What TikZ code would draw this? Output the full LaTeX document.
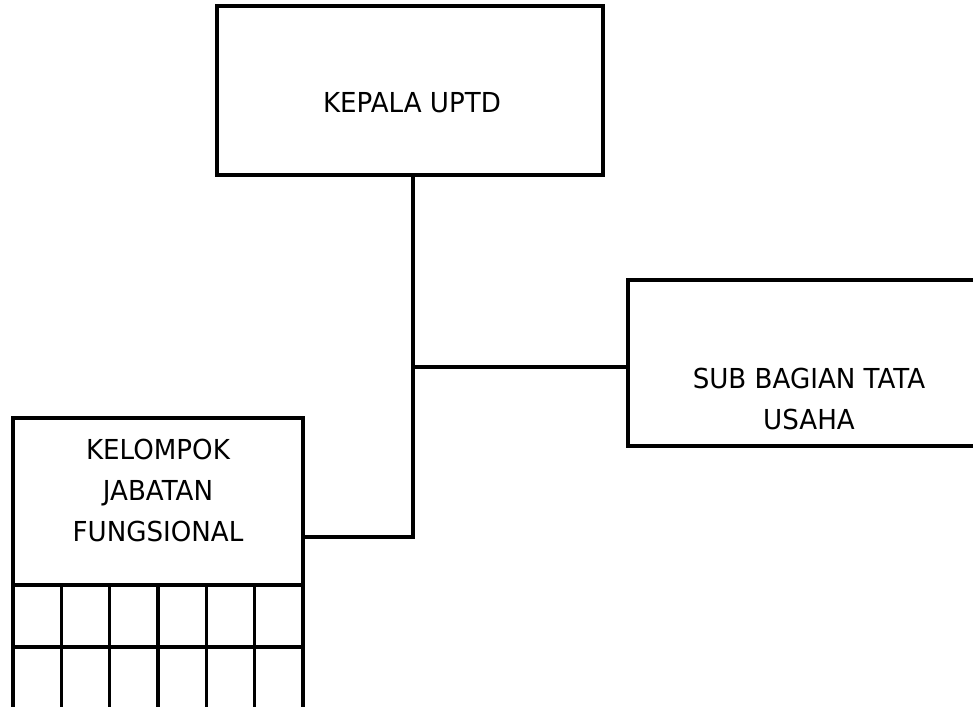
\documentclass[tikz,border=0pt]{standalone}
\usepackage{fontspec}
\setmainfont{DejaVu Sans}[FakeStretch=0.95]
\usetikzlibrary{positioning}

\tikzset{
  unitbox/.style={draw, line width=3.5pt, inner sep=0pt, outer sep=0pt},
  boxtext/.style={align=center, font=\fontsize{27.5}{41}\selectfont},
  link/.style={line width=3.5pt}
}

\begin{document}
\begin{tikzpicture}[x=1pt,y=-1pt]
\useasboundingbox (0,0) rectangle (973,706);
\clip (0,0) rectangle (973,706);

\node[unitbox, minimum width=386pt, minimum height=169pt] (kepala) at (410,90.5) {};
\node[boxtext] at ([xshift=2pt,yshift=-12.5pt]kepala.center) {KEPALA UPTD};

\node[unitbox, minimum width=362pt, minimum height=166pt] (subbag) at (809,363) {};
\node[boxtext] at ([yshift=-36pt]subbag.center) {SUB BAGIAN TATA\\USAHA};

\node[unitbox, minimum width=290pt, minimum height=167pt] (kelompok) at (158,501.5) {};
\node[boxtext] at ([yshift=11pt]kelompok.center) {KELOMPOK\\JABATAN\\FUNGSIONAL};

% grid under kelompok
\foreach \i in {0,...,5}
  \foreach \j in {0,1}
    \draw[line width=3.5pt] ([xshift=\i*48.33pt, yshift=-\j*62pt]kelompok.south west) rectangle ++(48.33,62);

\coordinate (jsub) at (413,367);
\coordinate (jkel) at (413,537);

\draw[link] (kepala.south -| jsub) -- (jkel) -- (jkel -| kelompok.east);
\draw[link] (jsub) -- (jsub -| subbag.west);
\end{tikzpicture}
\end{document}
